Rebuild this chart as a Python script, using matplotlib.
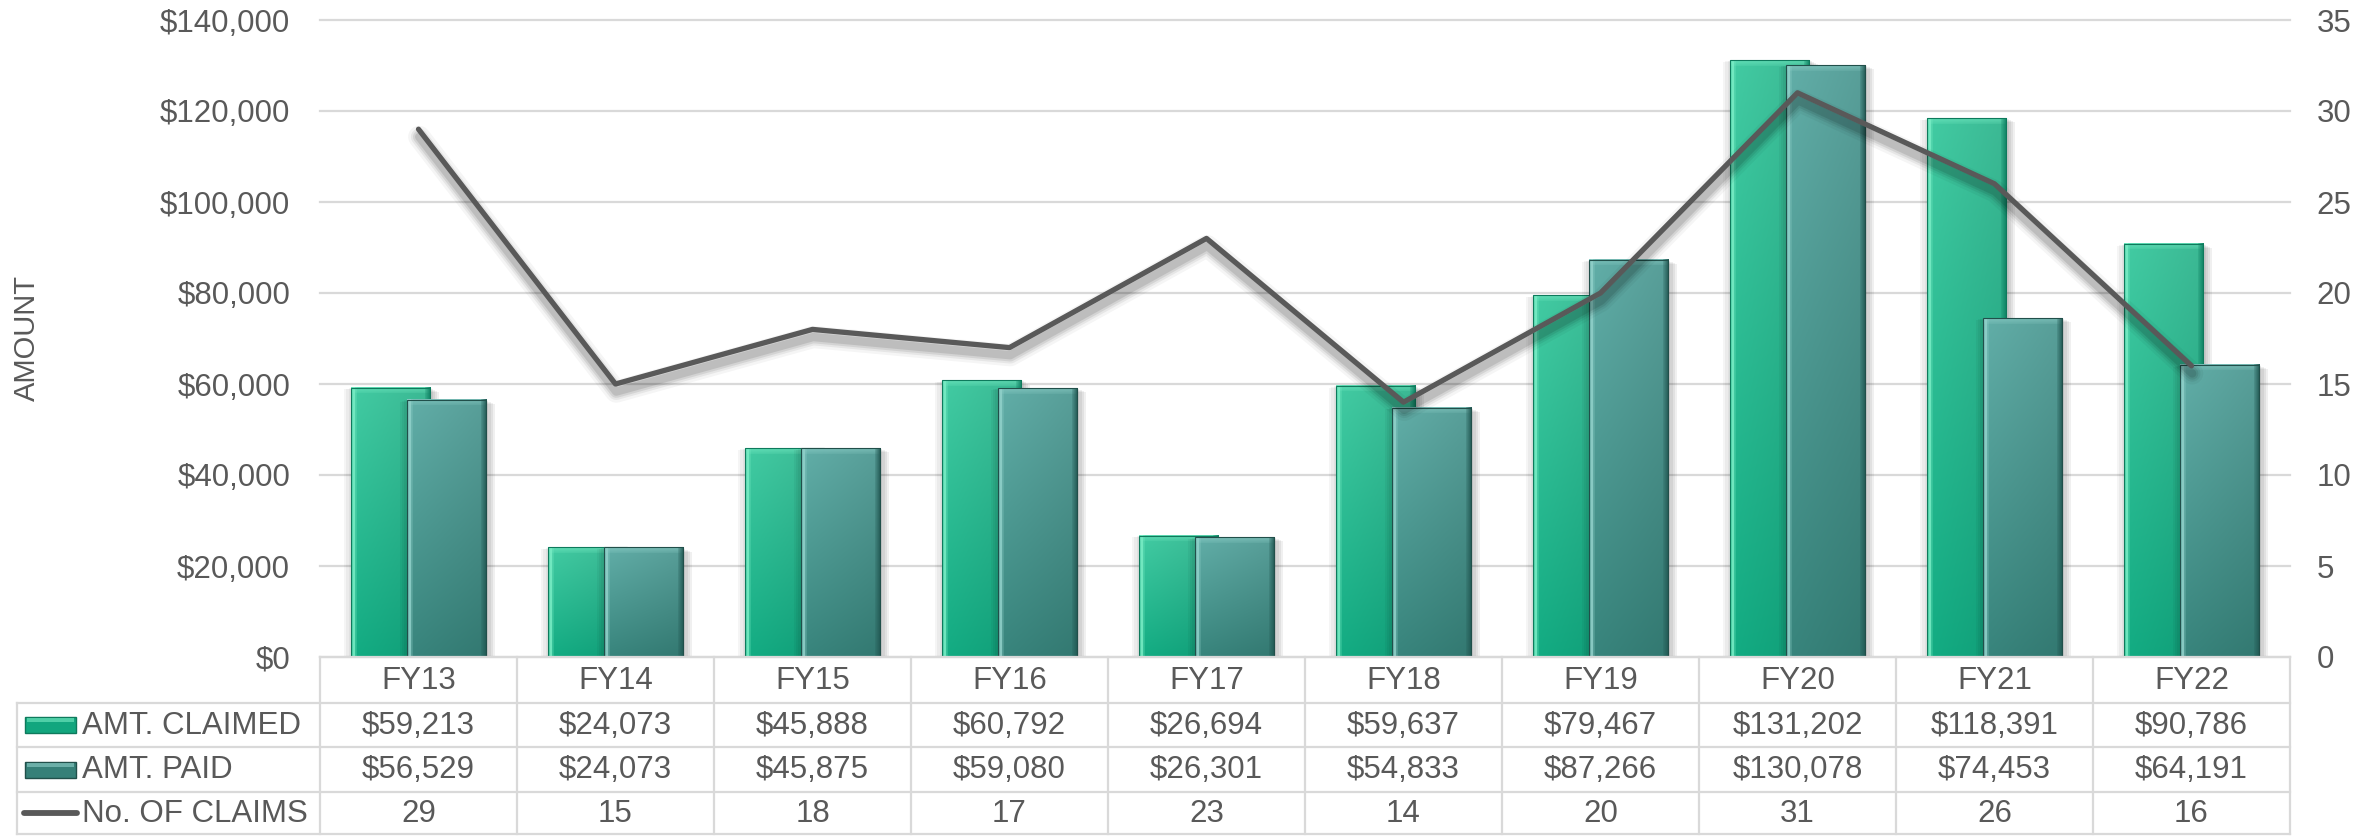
import numpy as np
import matplotlib
matplotlib.use('Agg')
import matplotlib.pyplot as plt
from matplotlib import patheffects as pe
from matplotlib.patches import Rectangle
from matplotlib.lines import Line2D

# ---------------- data ----------------
categories = ['FY13', 'FY14', 'FY15', 'FY16', 'FY17', 'FY18', 'FY19', 'FY20', 'FY21', 'FY22']
amt_claimed = [59213, 24073, 45888, 60792, 26694, 59637, 79467, 131202, 118391, 90786]
amt_paid = [56529, 24073, 45875, 59080, 26301, 54833, 87266, 130078, 74453, 64191]
num_claims = [29, 15, 18, 17, 23, 14, 20, 31, 26, 16]
series_labels = ['AMT. CLAIMED', 'AMT. PAID', 'No. OF CLAIMS']
left_ticks = [0, 20000, 40000, 60000, 80000, 100000, 120000, 140000]
right_ticks = [0, 5, 10, 15, 20, 25, 30, 35]
y_label = 'AMOUNT'

# ---------------- style ----------------
plt.rcParams['font.family'] = ['Liberation Sans', 'DejaVu Sans']
TXT = '#595959'
GRID = '#D9D9D9'
FS = 22.5

W, H, DPI = 2369, 836, 100
fig = plt.figure(figsize=(W / DPI, H / DPI), dpi=DPI)
fig.patch.set_facecolor('white')

AX_L, AX_R, AX_T, AX_B = 320, 2290, 20, 657


def fx(px):
    return px / W


def fy(py):
    return 1 - py / H


ax = fig.add_axes([fx(AX_L), fy(AX_B), (AX_R - AX_L) / W, (AX_B - AX_T) / H])
ax.set_xlim(-0.5, len(categories) - 0.5)
ax.set_ylim(0, 140000)
ax.set_autoscale_on(False)
for s in ax.spines.values():
    s.set_visible(False)
ax.set_xticks([])
ax.set_yticks(left_ticks)
ax.set_yticklabels(['${:,}'.format(v) for v in left_ticks])
ax.tick_params(axis='y', length=0, pad=21.5, labelsize=FS, labelcolor=TXT)
ax.yaxis.grid(True, color=GRID, lw=1.6)
ax.set_axisbelow(True)
for gl in ax.get_ygridlines():
    gl.set_clip_on(False)

BAR_W = 0.405
OFF = 0.142

claimed_cols = dict(top=(0x40, 0xC4, 0x9D), bot=(0x12, 0xA6, 0x7E),
                    light=(0x78, 0xEC, 0xC4), dark=(0x0F, 0x80, 0x62), edge='#0E7A5C')
paid_cols = dict(top=(0x5E, 0xA8, 0xA2), bot=(0x36, 0x80, 0x78),
                 light=(0x90, 0xD0, 0xC9), dark=(0x22, 0x58, 0x53), edge='#214F4A')


def bar_image(wpx, hpx, c, bev=6):
    wpx = max(int(round(wpx)), 4)
    hpx = max(int(round(hpx)), 4)
    top = np.array(c['top']) / 255.0
    bot = np.array(c['bot']) / 255.0
    t = np.linspace(0, 1, hpx)[:, None, None]
    img = top * (1 - t) + bot * t
    img = np.repeat(img, wpx, axis=1)
    s = np.linspace(0, 1, wpx)[None, :, None]
    img = np.clip(img * (1.04 - 0.10 * s), 0, 1)
    L = np.array(c['light']) / 255.0
    D = np.array(c['dark']) / 255.0
    b = min(bev, wpx // 3, hpx // 3)
    # left bevel (bright, with a bright thin line near the edge)
    for k in range(b):
        a = 0.55 * (1 - k / b) + 0.15
        if k in (2, 3):
            a = 0.9
        img[:, k] = img[:, k] * (1 - a) + L * a
    # top bevel
    for k in range(b):
        a = 0.45 * (1 - k / b) + 0.1
        img[k, :] = img[k, :] * (1 - a) + L * a
    # right bevel (dark)
    for k in range(b):
        a = 0.85 * (1 - k / b) + 0.1
        img[:, wpx - 1 - k] = img[:, wpx - 1 - k] * (1 - a) + D * a
    return img


shadow = ([pe.SimplePatchShadow(offset=(o, -o * 0.5), shadow_rgbFace='black', alpha=0.06)
           for o in (1.5, 3, 4.5, 6)] +
          [pe.SimplePatchShadow(offset=(-o, -o * 0.3), shadow_rgbFace='black', alpha=0.04)
           for o in (1.5, 3, 4.5)] + [pe.Normal()])


def draw_bars(xs, vals, c, z):
    rects = ax.bar(xs, vals, width=BAR_W, color=c['edge'], edgecolor='none', zorder=z)
    for r in rects:
        r.set_path_effects(shadow)
        x0, w, h = r.get_x(), r.get_width(), r.get_height()
        p0 = ax.transData.transform((x0, 0))
        p1 = ax.transData.transform((x0 + w, h))
        img = bar_image(p1[0] - p0[0], p1[1] - p0[1], c)
        ax.imshow(img, extent=(x0, x0 + w, 0, h), aspect='auto', origin='upper',
                  interpolation='bilinear', zorder=z + 0.1)
        ax.add_patch(Rectangle((x0, 0), w, h, fill=False, edgecolor=c['edge'],
                               lw=0.8, zorder=z + 0.2))
    return rects


idx = np.arange(len(categories))
draw_bars(idx - OFF, amt_claimed, claimed_cols, 2)
draw_bars(idx + OFF, amt_paid, paid_cols, 3)
ax.set_xlim(-0.5, len(categories) - 0.5)
ax.set_ylim(0, 140000)

# ---------------- line on secondary axis ----------------
ax2 = ax.twinx()
ax2.set_ylim(0, 35)
ax2.set_xlim(-0.5, len(categories) - 0.5)
for s in ax2.spines.values():
    s.set_visible(False)
ax2.set_yticks(right_ticks)
ax2.set_yticklabels([str(v) for v in right_ticks])
ax2.tick_params(axis='y', length=0, pad=19, labelsize=FS, labelcolor=TXT)
line_shadow = [pe.SimpleLineShadow(offset=(0.5, -5.5), shadow_color='black', alpha=a, linewidth=lw)
               for lw, a in ((16, 0.04), (12, 0.06), (9, 0.08), (6, 0.10))] + [pe.Normal()]
ax2.plot(idx, num_claims, color=TXT, lw=3.8, solid_joinstyle='round',
         solid_capstyle='round', zorder=5, path_effects=line_shadow)

fig.text(fx(27), fy(338), y_label, rotation=90, ha='center', va='center',
         fontsize=21, color=TXT)

# ---------------- data table ----------------
TL = 17
ROWS = [657, 703, 747, 792, 834]
col_w = (AX_R - AX_L) / len(categories)


def hline(y, x0, x1):
    fig.add_artist(Line2D([fx(x0), fx(x1)], [fy(y), fy(y)], transform=fig.transFigure,
                          color=GRID, lw=1.6))


def vline(x, y0, y1):
    fig.add_artist(Line2D([fx(x), fx(x)], [fy(y0), fy(y1)], transform=fig.transFigure,
                          color=GRID, lw=1.6))


hline(ROWS[0], AX_L, AX_R)
for y in ROWS[1:]:
    hline(y, TL, AX_R)
for k in range(len(categories) + 1):
    vline(AX_L + k * col_w, ROWS[0], ROWS[-1])
vline(TL, ROWS[1], ROWS[-1])

row_vals = [
    ['${:,}'.format(v) for v in amt_claimed],
    ['${:,}'.format(v) for v in amt_paid],
    [str(v) for v in num_claims],
]
for k, cat in enumerate(categories):
    cx = AX_L + (k + 0.5) * col_w
    fig.text(fx(cx), fy((ROWS[0] + ROWS[1]) / 2 + 1), cat, ha='center', va='center',
             fontsize=FS, color=TXT)
    for r in range(3):
        cy = (ROWS[r + 1] + ROWS[r + 2]) / 2 + 1
        fig.text(fx(cx), fy(cy), row_vals[r][k], ha='center', va='center',
                 fontsize=FS, color=TXT)

# row labels with legend keys
for r, (lab, c) in enumerate(zip(series_labels[:2], [claimed_cols, paid_cols])):
    cy = (ROWS[r + 1] + ROWS[r + 2]) / 2
    kx0, kx1, kh = 25, 76, 16
    fig.add_artist(Rectangle((fx(kx0), fy(cy + kh / 2)), (kx1 - kx0) / W, kh / H,
                             transform=fig.transFigure, facecolor='#%02x%02x%02x' % c['bot'],
                             edgecolor=c['edge'], lw=1.0))
    fig.add_artist(Rectangle((fx(kx0 + 2), fy(cy - kh / 2 + 5)), (kx1 - kx0 - 4) / W, 4 / H,
                             transform=fig.transFigure, facecolor='#%02x%02x%02x' % c['light'],
                             edgecolor='none', alpha=0.6))
    fig.text(fx(82), fy(cy + 1), lab, ha='left', va='center', fontsize=FS, color=TXT)

cy = (ROWS[3] + ROWS[4]) / 2
fig.add_artist(Line2D([fx(24), fx(77)], [fy(cy), fy(cy)], transform=fig.transFigure,
                      color=TXT, lw=4.2, solid_capstyle='round'))
fig.text(fx(82), fy(cy + 1), series_labels[2], ha='left', va='center', fontsize=FS, color=TXT)

fig.savefig('out.png', dpi=DPI, facecolor='white')
